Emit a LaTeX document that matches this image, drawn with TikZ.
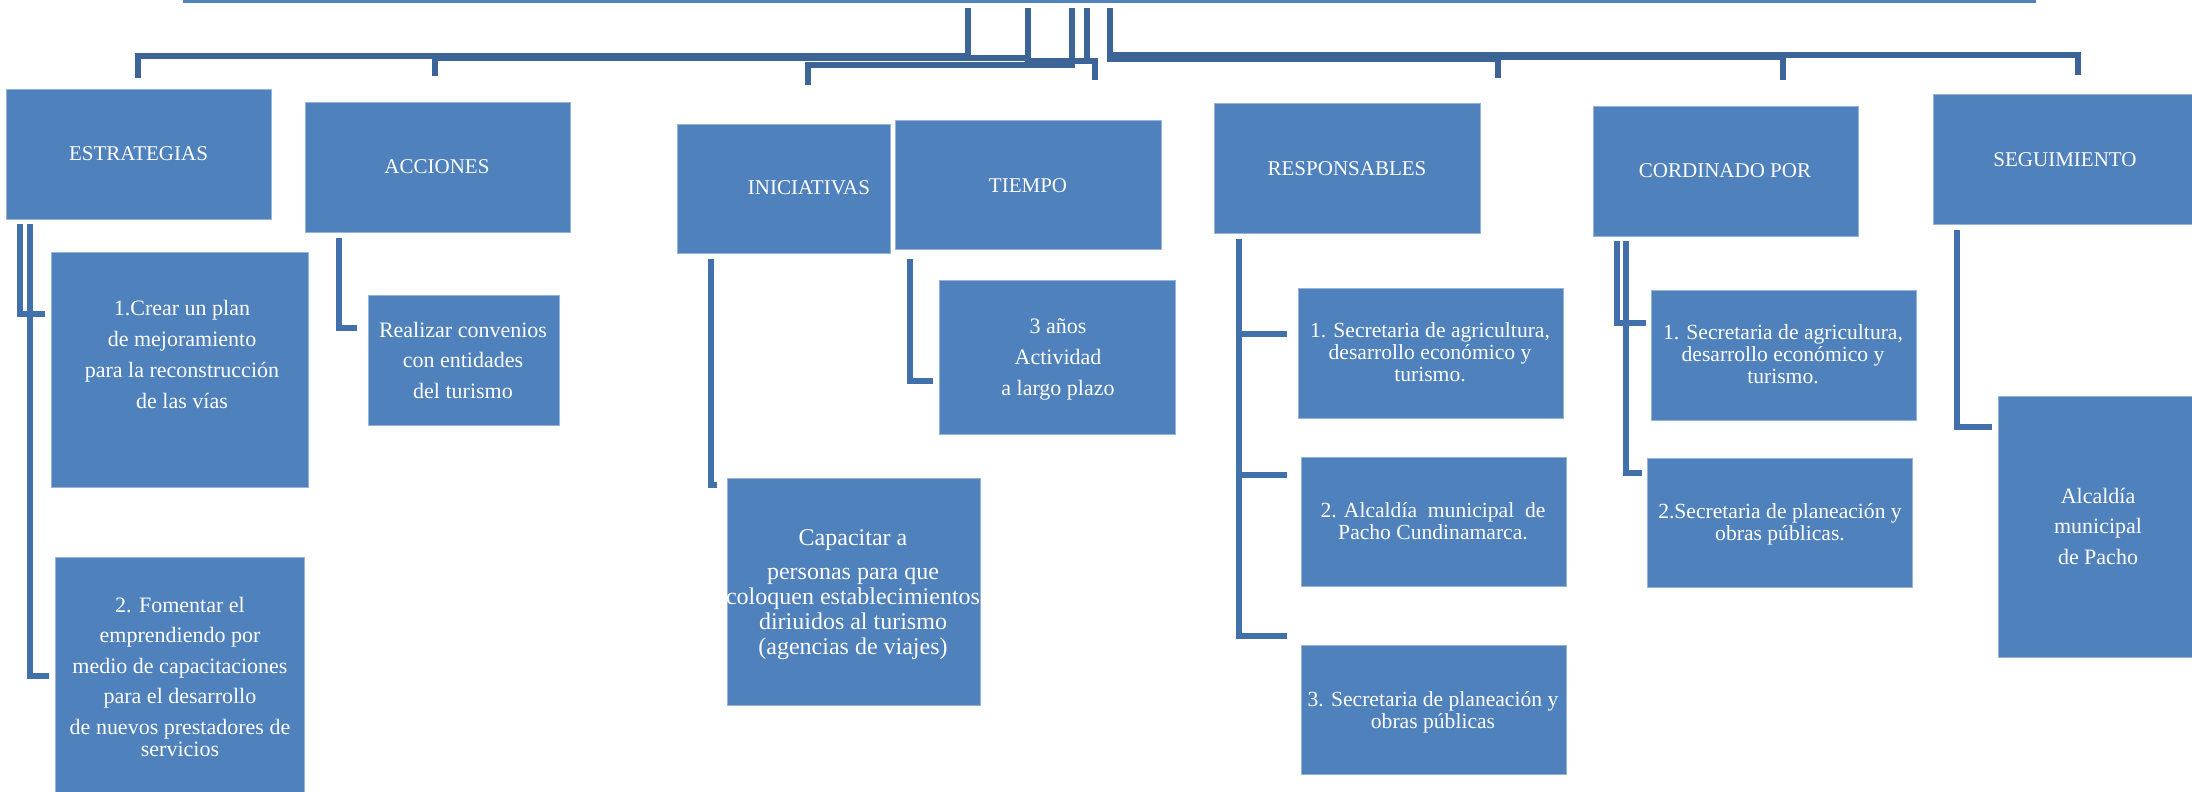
\documentclass[tikz,border=0pt]{standalone}
\usepackage{fontspec}
\setmainfont{Liberation Serif}
\usetikzlibrary{fit,calc}
\definecolor{boxblue}{RGB}{79,129,189}
\definecolor{topline}{RGB}{60,100,150}
\definecolor{subline}{RGB}{66,112,170}
\definecolor{boxedge}{RGB}{150,180,218}
\begin{document}
\begin{tikzpicture}[x=0.5pt,y=-0.5pt,
  box/.style={fill=boxblue, draw=boxedge, line width=0.4pt, inner sep=0pt, outer sep=0pt},
  bar/.style={fill=boxblue, inner sep=0pt, outer sep=0pt},
  txt/.style={text=white, align=center, inner sep=0pt, anchor=base},
  hdr/.style={txt, font=\fontsize{10.5}{12}\selectfont},
  body/.style={txt, font=\fontsize{11}{15.4}\selectfont},
  tight/.style={txt, font=\fontsize{10.8}{11}\selectfont},
  big/.style={txt, font=\fontsize{12}{12.5}\selectfont},
  topconn/.style={draw=topline, line width=2.6pt},
  subconn/.style={draw=subline, line width=2.6pt}]
\useasboundingbox (0,0) rectangle (2192,792);

% root bar (cut by the top edge)
\node[bar, fit={(183,0) (2036,3.5)}] (root) {};

% header boxes
\node[box, fit={(6,89) (271,219)}] (estr) {};
\node[box, fit={(305,102) (570,232)}] (acc) {};
\node[box, fit={(677,124) (890,253)}] (ini) {};
\node[box, fit={(895,120) (1161,249)}] (tie) {};
\node[box, fit={(1214,103) (1480,233)}] (resp) {};
\node[box, fit={(1593,106) (1858,236)}] (cord) {};
\node[box, fit={(1933,94) (2200,224)}] (seg) {};

% child boxes
\node[box, fit={(51,252) (308,487)}] (b1) {};
\node[box, fit={(55,557) (304,800)}] (b2) {};
\node[box, fit={(368,295) (559,425)}] (real) {};
\node[box, fit={(727,478) (980,705)}] (cap) {};
\node[box, fit={(939,280) (1175,434)}] (anos) {};
\node[box, fit={(1298,288) (1563,418)}] (r1) {};
\node[box, fit={(1301,457) (1566,586)}] (r2) {};
\node[box, fit={(1301,645) (1566,774)}] (r3) {};
\node[box, fit={(1651,290) (1916,420)}] (c1) {};
\node[box, fit={(1647,458) (1912,587)}] (c2) {};
\node[box, fit={(1998,396) (2200,657)}] (alc) {};

% header texts
\node[hdr] (estrT) at (138.5,161) {ESTRATEGIAS};
\node[hdr] (accT) at (437,174) {ACCIONES};
\node[hdr] (iniT) at (809,195) {INICIATIVAS};
\node[hdr] (tieT) at (1028,192) {TIEMPO};
\node[hdr] (respT) at (1347,176) {RESPONSABLES};
\node[hdr] (cordT) at (1725,177) {CORDINADO POR};
\node[hdr] (segT) at (2065,167) {SEGUIMIENTO};

% child texts (anchored at the baseline of their last line)
\node[body] (b1T) at (182,408) {1.Crear un plan\\ de mejoramiento\\ para la reconstrucción\\ de las vías};
\node[body, font=\fontsize{11}{15.2}\selectfont] (b2T) at (180,756) {2. Fomentar el\\ emprendiendo por\\ medio de capacitaciones\\ para el desarrollo\\ de nuevos prestadores de\\[-4.2pt] servicios};
\node[body, font=\fontsize{11}{15.25}\selectfont] (realT) at (463,398) {Realizar convenios\\ con entidades\\ del turismo};
\node[body] (anosT) at (1058,395) {3 años\\ Actividad\\ a largo plazo};
\node[big] (capT) at (853,654) {Capacitar a\\[4.5pt] personas para que\\ coloquen establecimientos\\ diriuidos al turismo\\ (agencias de viajes)};
\node[tight] (r1T) at (1430,381) {1. Secretaria de agricultura,\\ desarrollo económico y\\ turismo.};
\node[tight] (r2T) at (1433,539) {2. Alcaldía\ \ municipal\ \ de\\ Pacho Cundinamarca.};
\node[tight] (r3T) at (1433,728) {3. Secretaria de planeación y\\ obras públicas};
\node[tight] (c1T) at (1783,383) {1. Secretaria de agricultura,\\ desarrollo económico y\\ turismo.};
\node[tight] (c2T) at (1780,540) {2.Secretaria de planeación y\\ obras públicas.};
\node[body, font=\fontsize{11}{15.25}\selectfont] (alcT) at (2098,564) {Alcaldía\\ municipal\\ de Pacho};

% connectors from the root
\draw[topconn] (968,0 |- root.south) ++(0,4.5) |- (138,56) -- ($(138,0 |- estr.north)+(0,-11)$);
\draw[topconn] (1028,0 |- root.south) ++(0,4.5) |- (435,58) -- ($(435,0 |- acc.north)+(0,-26)$);
\draw[topconn] (1072,0 |- root.south) ++(0,4.5) |- (808,65) -- ($(808,0 |- ini.north)+(0,-39)$);
\draw[topconn] (1028,0 |- root.south) ++(0,4.5) |- (1095,61) -- ($(1095,0 |- tie.north)+(0,-40)$);
\draw[topconn] (1087,0 |- root.south) ++(0,4.5) |- (1095,61) -- ($(1095,0 |- tie.north)+(0,-40)$);
\draw[topconn] (1110,0 |- root.south) ++(0,4.5) |- (1498,59) -- ($(1498,0 |- resp.north)+(0,-25)$);
\draw[topconn] (1110,0 |- root.south) ++(0,4.5) |- (1783,57) -- ($(1783,0 |- cord.north)+(0,-26)$);
\draw[topconn] (1110,0 |- root.south) ++(0,4.5) |- (2078,55) -- ($(2078,0 |- seg.north)+(0,-19)$);

% connectors from headers to children
\draw[subconn] ($(20,0 |- estr.south)+(0,5)$) |- ($(b1.west |- 0,314)+(-6,0)$);
\draw[subconn] ($(30,0 |- estr.south)+(0,5)$) |- ($(b2.west |- 0,676)+(-6,0)$);
\draw[subconn] ($(339,0 |- acc.south)+(0,6)$) |- ($(real.west |- 0,328)+(-11,0)$);
\draw[subconn] ($(711,0 |- ini.south)+(0,6)$) |- ($(cap.west |- 0,485)+(-10,0)$);
\draw[subconn] ($(910,0 |- tie.south)+(0,10)$) |- ($(anos.west |- 0,381)+(-6,0)$);
\draw[subconn] ($(1239,0 |- resp.south)+(0,6)$) |- ($(r1.west |- 0,334)+(-11,0)$);
\draw[subconn] ($(1239,0 |- resp.south)+(0,6)$) |- ($(r2.west |- 0,475)+(-14,0)$);
\draw[subconn] ($(1239,0 |- resp.south)+(0,6)$) |- ($(r3.west |- 0,636)+(-14,0)$);
\draw[subconn] ($(1617,0 |- cord.south)+(0,5)$) |- ($(c1.west |- 0,323)+(-5,0)$);
\draw[subconn] ($(1626,0 |- cord.south)+(0,5)$) |- ($(c2.west |- 0,473)+(-5,0)$);
\draw[subconn] ($(1957,0 |- seg.south)+(0,6)$) |- ($(alc.west |- 0,427)+(-6,0)$);
\end{tikzpicture}
\end{document}
